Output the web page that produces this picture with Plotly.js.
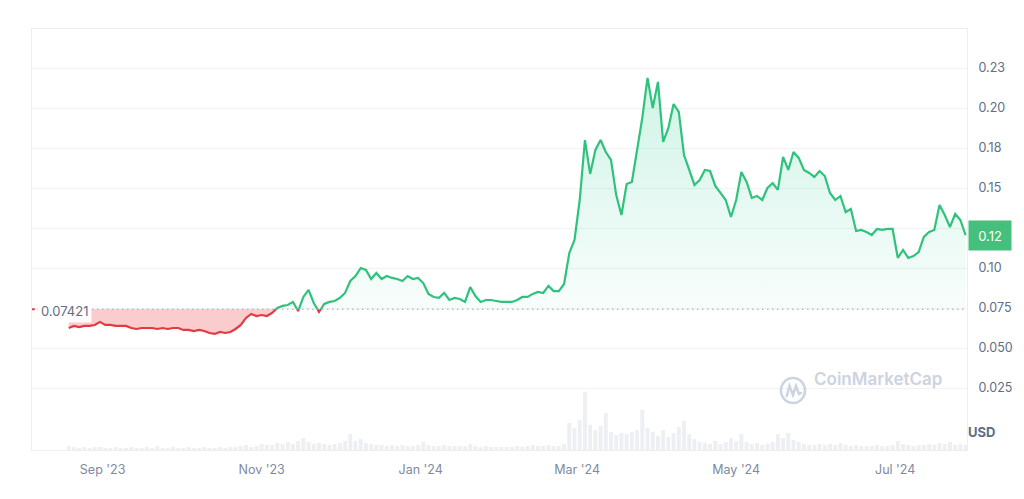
<!DOCTYPE html>
<html><head><meta charset="utf-8">
<script src="https://cdn.plot.ly/plotly-3.0.1.min.js"></script>
<style>html,body{margin:0;padding:0;background:#fff;}#chart{width:1024px;height:499px;}</style>
</head><body><div id="chart"></div>
<script>
// ---- data (2-day samples from 2023-08-19) ----
const startDate = [2023, 7, 19];   // UTC y, m(0-based), d
const stepDays = 2;
const price = [
0.0625,0.0638,0.0631,0.0638,0.0638,0.0644,0.0663,0.0644,0.0644,0.0638,
0.0638,0.0638,0.0625,0.0619,0.0625,0.0625,0.0625,0.0619,0.0625,0.0619,
0.0625,0.0625,0.0613,0.0613,0.0606,0.0613,0.0606,0.0594,0.0588,0.0600,
0.0594,0.0600,0.0619,0.0644,0.0688,0.0713,0.0700,0.0706,0.0700,0.0719,
0.0750,0.0763,0.0769,0.0788,0.0731,0.0819,0.0863,0.0781,0.0725,0.0775,
0.0788,0.0794,0.0813,0.0844,0.0919,0.0950,0.1000,0.0988,0.0931,0.0969,
0.0931,0.0950,0.0938,0.0931,0.0919,0.0950,0.0931,0.0938,0.0906,0.0838,
0.0819,0.0813,0.0844,0.0800,0.0813,0.0806,0.0788,0.0881,0.0825,0.0788,
0.0800,0.0800,0.0794,0.0788,0.0788,0.0788,0.0800,0.0819,0.0819,0.0838,
0.0850,0.0844,0.0888,0.0856,0.0856,0.0900,0.1094,0.1175,0.1425,0.1800,
0.1588,0.1738,0.1800,0.1725,0.1675,0.1456,0.1331,0.1525,0.1538,0.1750,
0.1938,0.2188,0.2000,0.2163,0.1788,0.1875,0.2025,0.1975,0.1706,0.1613,
0.1519,0.1550,0.1613,0.1606,0.1513,0.1469,0.1425,0.1319,0.1425,0.1600,
0.1538,0.1438,0.1450,0.1425,0.1500,0.1531,0.1488,0.1694,0.1613,0.1725,
0.1688,0.1613,0.1594,0.1569,0.1606,0.1575,0.1469,0.1425,0.1450,0.1350,
0.1369,0.1231,0.1238,0.1225,0.1206,0.1244,0.1238,0.1244,0.1244,0.1063,
0.1113,0.1063,0.1075,0.1100,0.1194,0.1225,0.1238,0.1394,0.1331,0.1256,
0.1338,0.1300,0.1206
];
const volumeM = [
4,3,2,3,2,3,3,2,2,3,
2,2,3,2,2,3,2,4,2,2,
3,2,2,3,2,2,3,2,2,3,
2,3,3,4,5,3,4,6,5,5,
7,6,8,6,9,12,8,6,7,6,
5,6,7,9,16,9,11,7,6,5,
5,4,5,4,5,4,4,5,8,5,
4,4,5,4,4,4,4,6,4,3,
4,3,3,3,3,3,4,3,4,5,
4,4,5,4,4,6,27,22,30,58,
25,20,24,37,18,15,17,16,18,20,
40,22,18,14,20,13,17,23,29,16,
11,8,7,6,9,6,8,12,9,16,
8,6,7,5,6,8,16,12,17,10,
8,6,5,5,6,5,6,5,7,5,
4,5,4,4,4,5,4,4,5,9,
6,5,4,5,5,6,5,7,6,8,
5,6,5
];
const baseline = 0.07421;
const baselineLabel = '0.07421';
const lastLabel = '0.12';
const yTickVals = [0.025,0.05,0.075,0.1,0.125,0.15,0.175,0.2,0.225];
// the 0.125 label sits under the current-price badge in the reference
const yTickText = ['0.025','0.050','0.075','0.10','','0.15','0.18','0.20','0.23'];
const xTickVals = ['2023-09-01','2023-11-01','2024-01-01','2024-03-01','2024-05-01','2024-07-01'];
const xTickText = ["Sep '23","Nov '23","Jan '24","Mar '24","May '24","Jul '24"];
const xRange = ['2023-08-04 22:00','2024-07-28 13:00'];
const yRange = [-0.01375, 0.249375];

// ---- build ----
const DAY = 86400000;
const p2 = n => String(n).padStart(2,'0');
const fmt = ms => { const d = new Date(ms); return d.getUTCFullYear()+'-'+p2(d.getUTCMonth()+1)+'-'+p2(d.getUTCDate())+' '+p2(d.getUTCHours())+':'+p2(d.getUTCMinutes())+':'+p2(d.getUTCSeconds()); };
const t0 = Date.UTC(startDate[0], startDate[1], startDate[2]);
const dates = price.map((_, i) => t0 + i*stepDays*DAY);

const X = [], Y = [];
for (let i = 0; i < price.length; i++) {
  X.push(dates[i]); Y.push(price[i]);
  if (i < price.length - 1) {
    const a = price[i] - baseline, b = price[i+1] - baseline;
    if (a * b < 0) { const t = a / (a - b); X.push(dates[i] + t*(dates[i+1]-dates[i])); Y.push(baseline); }
  }
}
const XS = X.map(fmt);
const upLine = Y.map(v => v >= baseline ? v : null);
const dnLine = Y.map(v => v <= baseline ? v : null);
const upFill = Y.map(v => Math.max(v, baseline));
const dnFill = Y.map(v => Math.min(v, baseline));
const baseArr = Y.map(() => baseline);

const GREEN = '#2fc27c', RED = '#e23a40';
const FONT = 'Inter, Roboto, sans-serif';

const traces = [
  {type:'bar', x: dates.map(fmt), y: volumeM, yaxis:'y2', marker:{color:'#edeff3'}, width: stepDays*DAY*0.75, hoverinfo:'skip'},
  {type:'scatter', mode:'lines', x: XS, y: baseArr, line:{width:0}, hoverinfo:'skip'},
  {type:'scatter', mode:'lines', x: XS, y: upFill, line:{width:0}, fill:'tonexty',
   fillgradient:{type:'vertical', colorscale:[[0,'rgba(22,199,132,0.03)'],[1,'rgba(22,199,132,0.2)']]}, hoverinfo:'skip'},
  {type:'scatter', mode:'lines', x: XS, y: baseArr, line:{width:0}, hoverinfo:'skip'},
  {type:'scatter', mode:'lines', x: XS, y: dnFill, line:{width:0}, fill:'tonexty', fillcolor:'rgba(234,57,67,0.26)', hoverinfo:'skip'},
  {type:'scatter', mode:'lines', x: XS, y: upLine, line:{color:GREEN, width:2.2}, connectgaps:false},
  {type:'scatter', mode:'lines', x: XS, y: dnLine, line:{color:RED, width:2.2}, connectgaps:false}
];

const px = v => (v - 32) / 935;   // helper for decoration placement (paper coords)
const py = v => (450 - v) / 421;

const layout = {
  width:1024, height:499, showlegend:false,
  margin:{l:32, r:57, t:29, b:49, pad:0},
  paper_bgcolor:'#fff', plot_bgcolor:'#fff',
  font:{family:FONT},
  xaxis:{type:'date', range:xRange, tickvals:xTickVals, ticktext:xTickText, showgrid:false, zeroline:false,
         showline:true, linecolor:'#eceef1', linewidth:1, mirror:true, ticks:'', ticklabelstandoff:8,
         tickfont:{family:FONT, size:12.5, color:'#808a9d'}},
  yaxis:{side:'right', range:yRange, tickvals:yTickVals, ticktext:yTickText, showgrid:true, gridcolor:'#f0f2f5',
         zeroline:false, showline:true, linecolor:'#eceef1', linewidth:1, mirror:true, ticks:'', ticklabelstandoff:8,
         tickfont:{family:FONT, size:12.5, color:'#616e85'}},
  yaxis2:{overlaying:'y', range:[0,420], visible:false, fixedrange:true},
  shapes:[
    {type:'line', xref:'paper', x0:0, x1:1, yref:'y', y0:baseline, y1:baseline, line:{color:'#9ea6b4', width:1, dash:'1.5px,3.5px'}, layer:'above'},
    {type:'rect', xref:'paper', x0:0, x1:0.003, yref:'y', y0:baseline-0.0006, y1:baseline+0.0006, fillcolor:RED, line:{width:0}},
    {type:'circle', xref:'paper', yref:'paper', x0:px(781), x1:px(805), y0:py(403), y1:py(378), line:{color:'#cdd3df', width:2.5}},
    {type:'path', xref:'paper', yref:'paper',
     path:'M '+px(786.5)+','+py(397)+' L '+px(789.5)+','+py(386)+' L '+px(793)+','+py(395)+' L '+px(796)+','+py(386)+' L '+px(799)+','+py(394)+' L '+px(802)+','+py(392.5),
     line:{color:'#cdd3df', width:2.5}}
  ],
  annotations:[
    {xref:'paper', x:0, xanchor:'left', xshift:5, yref:'y', y:baseline, yshift:-2, text:baselineLabel, showarrow:false,
     font:{family:FONT, size:13, color:'#616e85'}, bgcolor:'rgba(255,255,255,0.92)', borderpad:3},
    {xref:'paper', x:1, xanchor:'left', xshift:1, yref:'y', y:price[price.length-1], text:lastLabel, showarrow:false,
     font:{family:FONT, size:13, color:'#fff'}, bgcolor:'#45c07c', borderpad:4, width:34, height:21},
    {xref:'paper', x:px(997), yref:'paper', y:py(442), text:'<b>USD</b>', showarrow:false,
     font:{family:FONT, size:13, color:'#616e85'}},
    {xref:'paper', x:px(812), xanchor:'left', yref:'paper', y:py(391), text:'CoinMarketCap', showarrow:false,
     font:{family:FONT, size:17, weight:600, color:'#cdd3df'}}
  ]
};

Plotly.newPlot('chart', traces, layout, {staticPlot:true, displayModeBar:false});
</script></body></html>
